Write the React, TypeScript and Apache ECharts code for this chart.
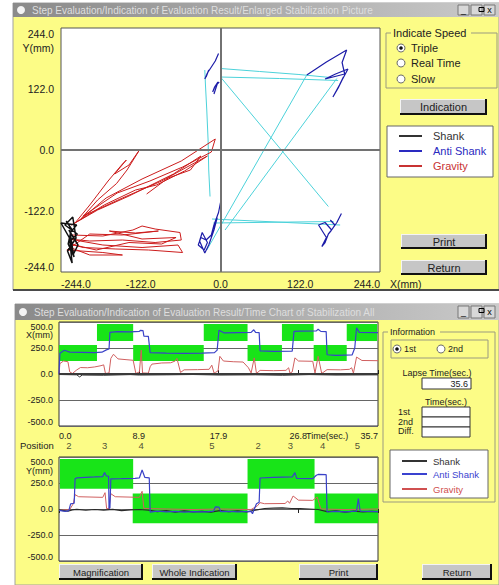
import React, { useEffect, useRef } from 'react';
import * as echarts from 'echarts';

const FONT = '"Liberation Sans", Arial, Helvetica, sans-serif';

// ---------------- Top chart: X-Y trajectory (mm) ----------------
const xyMin = -244;
const xyMax = 244;
const xyInterval = 122;

const shankXY = [[-236,-142],[-228,-158],[-233,-188],[-224,-214],[-230,-182],[-219,-168],[-238,-150],[-226,-134],[-221,-176],[-234,-202],[-227,-226],[-231,-176],[-244,-146],[-220,-150],[-230,-165],[-225,-208],[-218,-190],[-232,-160]];

const antiShankXY1 = [[-3,193],[-8,178],[-14,166],[-20,154],[-24,142],[-21,150],[-18,160],[-22,146]];
const antiShankXY2 = [[-2,136],[-8,128],[-12,116],[-9,126],[-4,136],[-10,112]];
const antiShankXY3 = [[132,150],[162,176],[193,200],[186,175],[190,152],[160,142],[176,152],[195,162],[186,140],[180,124],[172,106],[182,130],[188,146]];
const antiShankXY4 = [[0,-105],[-3,-125],[-10,-150],[-14,-170],[-22,-180],[-30,-175],[-34,-190],[-25,-200],[-20,-185],[-28,-165],[-32,-182],[-24,-206],[-18,-190],[-10,-160],[-5,-135]];
const antiShankXY5 = [[185,-127],[178,-145],[170,-160],[165,-168],[160,-185],[155,-193],[162,-175],[150,-150],[160,-145],[170,-160],[175,-150],[168,-140]];
const antiShankStrokes = [antiShankXY1, antiShankXY2, antiShankXY3, antiShankXY4, antiShankXY5];

const gravityFanXY = [[-225,-150],[-200,-110],[-172,-62],[-150,-28],[-144,-20],[-162,-48],[-140,-30],[-124,0],[-143,-40],[-159,-67],[-188,-100],[-215,-140],[-175,-96],[-120,-58],[-60,-22],[-8,22],[-14,-4],[-58,-34],[-108,-62],[-158,-86],[-210,-132],[-150,-96],[-90,-62],[-40,-26],[-20,-12],[-55,-42],[-98,-70],[-130,-80],[-178,-110],[-228,-150],[-188,-120],[-140,-92],[-72,-48],[-30,-12],[-46,-40],[-80,-56],[-113,-88]];
const gravityBandXY = [[-228,-170],[-180,-172],[-134,-160],[-120,-152],[-100,-158],[-62,-165],[-60,-180],[-100,-185],[-150,-180],[-200,-182],[-232,-178],[-180,-190],[-120,-195],[-65,-190],[-58,-205],[-110,-200],[-160,-198],[-210,-195],[-230,-188],[-190,-200],[-140,-185],[-90,-188],[-68,-175],[-120,-178],[-170,-162],[-130,-166],[-95,-162],[-150,-170],[-200,-168],[-235,-200],[-180,-205],[-150,-210],[-200,-210],[-230,-195]];
const gravityStrokes = [gravityFanXY, gravityBandXY];

const trajA = [[-16,-93],[-18,-40],[-19,20],[-21,80],[-23,130],[-24,160]];
const trajB = [[0,163],[60,157],[120,151],[168,145]];
const trajC = [[0,146],[90,143],[180,139]];
const trajD = [[0,146],[165,-113]];
const trajE = [[132,150],[-21,-200]];
const trajF = [[178,143],[7,-160]];
const trajG = [[-13,-138],[183,-150]];
const trajH = [[-11,-146],[173,-143]];
const trajectoryStrokes = [trajA, trajB, trajC, trajD, trajE, trajF, trajG, trajH];

// ---------------- Time charts ----------------
const timeMax = 35.7;
const timeInterval = 8.925;
const timeTickLabels = ['0.0', '8.9', '17.9', '26.8', '35.7'];
const mmMin = -500;
const mmMax = 500;
const mmInterval = 250;

const shankX = [[0,-5],[2,-8],[2.3,-28],[2.6,-10],[5,-12],[8,-6],[9,-10],[12,-8],[15,-5],[18,-10],[22,-8],[25,-12],[28,-6],[31,-10],[35.7,-8]];
const antiShankX = [[0,-5],[0.1,200],[0.6,228],[1.2,210],[2.5,208],[4.0,205],[4.8,210],[5.3,232],[5.6,240],[5.7,400],[6.5,408],[8.0,405],[9.0,410],[9.1,420],[9.4,418],[9.5,365],[10.0,362],[10.2,205],[12,200],[14,198],[16,200],[17.4,205],[17.7,230],[17.9,420],[18.5,395],[20,398],[21.5,400],[21.8,425],[22.0,400],[22.4,398],[22.5,222],[24,218],[26.1,220],[26.3,410],[27,412],[28.8,415],[29.0,430],[29.3,410],[29.9,408],[30.0,185],[31,180],[32.8,183],[33.1,250],[33.3,445],[33.6,400],[35.7,398]];
const gravityX = [[0,0],[0.1,100],[0.5,125],[1.0,118],[1.2,20],[1.5,5],[2.0,40],[2.4,62],[3.2,60],[4.0,68],[4.7,80],[5.0,88],[5.2,5],[5.6,10],[5.8,150],[6.1,190],[6.6,145],[7.5,138],[8.3,132],[8.6,5],[9.0,20],[9.2,230],[9.35,10],[10.0,8],[10.2,70],[10.4,95],[11.5,106],[12.5,108],[13.0,125],[13.2,150],[13.6,15],[14.0,40],[15.5,42],[16.8,45],[17.1,85],[17.35,10],[17.5,15],[17.8,30],[18.0,170],[18.4,125],[19.5,118],[20.6,115],[21.2,60],[21.5,10],[21.85,155],[22.1,5],[22.5,35],[24,32],[25.4,35],[25.7,60],[25.85,8],[26.1,20],[26.4,155],[26.8,125],[28.4,122],[28.65,8],[29.0,170],[29.4,5],[30.0,42],[31.5,40],[32.5,45],[32.75,60],[32.95,8],[33.3,163],[33.9,130],[35.7,128]];

const shankY = [[0,-10],[1,-20],[1.5,-8],[2,-3],[3,-12],[4,-5],[5,-10],[6,-3],[7,-15],[8,-8],[9,-5],[10,-10],[11,-25],[12,-15],[13,-30],[14,-18],[15,-28],[16,-22],[17,-30],[18,-15],[19,-25],[20,-18],[21,-28],[22,-10],[23,5],[24,8],[25,10],[26,5],[27,3],[28,0],[29,-5],[30,-25],[31,-18],[32,-30],[33,-20],[34,-28],[35,-22],[35.7,-25]];
const antiShankY = [[0,-13],[0.7,-22],[1.1,-15],[1.3,50],[1.7,55],[1.8,290],[2.0,300],[3,305],[4,308],[4.9,312],[5.1,350],[5.3,318],[5.55,315],[5.6,5],[5.7,10],[5.8,290],[7,292],[8.5,295],[9.0,300],[9.3,375],[9.6,305],[10.1,300],[10.2,-30],[11,-20],[12,-28],[13,-22],[14,-30],[15,-25],[16.5,-28],[17.3,-20],[17.5,20],[17.9,18],[18.1,-25],[19,-22],[20,-28],[21.5,-22],[21.65,-45],[22.1,51],[22.4,65],[22.5,298],[24,305],[26.1,308],[26.4,350],[26.6,295],[28.4,292],[28.8,325],[29.0,332],[29.9,330],[30.0,-29],[31,-22],[32,-27],[33.3,-20],[33.5,100],[33.7,-20],[35.7,-25]];
const gravityY = [[0,-13],[1.2,-5],[1.6,51],[1.8,138],[2.2,118],[4.9,112],[5.15,157],[5.33,3],[5.6,5],[5.8,147],[6.3,118],[9.0,112],[9.3,170],[9.5,5],[12,0],[15,-5],[18,0],[21.5,-5],[22.2,30],[22.5,61],[23,51],[25.3,53],[25.6,77],[25.8,55],[26.2,125],[26.8,85],[28.4,83],[28.9,115],[29.3,0],[32,-5],[35.7,0]];

const xHighRange = [317, 481];
const xHighZones = [[4.25, 8.3], [16.2, 21.1], [24.95, 28.5], [32.2, 35.6]];
const xLowRange = [125, 280];
const xLowZones = [[0, 4.25], [8.3, 16.2], [21.1, 24.95], [28.5, 32.2]];
const yHighRange = [195, 480];
const yHighZones = [[0.1, 8.3], [21.1, 28.6]];
const yLowRange = [-138, 150];
const yLowZones = [[8.25, 21.1], [28.6, 35.7]];

const positionTimes = [1.1, 5.1, 9.2, 17.1, 22.3, 25.9, 29.5, 33.4];
const positionNames = ['2', '3', '4', '5', '2', '3', '4', '5'];

// ---------------- graphics helpers ----------------
const YELLOW = '#fcfc86';
const txt = (x: number, y: number, s: string, size = 11, fill = '#1e1e1e', align = 'left', z = 6) => ({
  type: 'text', x, y, z, silent: true,
  style: { text: s, fill, font: `${size}px ${FONT}`, textAlign: align, textVerticalAlign: 'middle' },
});
const rect = (x: number, y: number, w: number, h: number, fill: any, stroke?: string, lw = 1, z = 4) => ({
  type: 'rect', z, silent: true, shape: { x, y, width: w, height: h },
  style: { fill, stroke: stroke || null, lineWidth: stroke ? lw : 0 },
});
const ln = (x1: number, y1: number, x2: number, y2: number, stroke: string, lw = 1, z = 5) => ({
  type: 'line', z, silent: true, shape: { x1, y1, x2, y2 }, style: { stroke, lineWidth: lw },
});
const circ = (cx: number, cy: number, r: number, fill: string, stroke?: string, z = 6) => ({
  type: 'circle', z, silent: true, shape: { cx, cy, r }, style: { fill, stroke: stroke || null, lineWidth: 1 },
});
const button = (x: number, y: number, w: number, h: number, label: string, size: number) => [
  rect(x, y, w, h, '#c6c6c6', undefined, 0, 5),
  ln(x, y + 0.5, x + w, y + 0.5, '#f4f4f4', 1, 6),
  ln(x + 0.5, y, x + 0.5, y + h, '#f4f4f4', 1, 6),
  ln(x + w - 1, y, x + w - 1, y + h, '#111', 2, 6),
  ln(x, y + h - 1, x + w, y + h - 1, '#111', 2, 6),
  txt(x + w / 2, y + h / 2, label, size, '#222', 'center', 7),
];
const radio = (cx: number, cy: number, checked: boolean) => {
  const els: any[] = [circ(cx, cy, 4, '#ffffff', '#6a6a6a')];
  if (checked) els.push(circ(cx, cy, 1.8, '#111', undefined, 7));
  return els;
};
const groupBox = (x: number, y: number, w: number, h: number, title: string, size: number, titleW: number) => [
  rect(x, y, w, h, 'transparent', '#9a9a80', 1, 4),
  rect(x + 5, y - 5, titleW, 10, YELLOW, undefined, 0, 5),
  txt(x + 7, y, title, size, '#222', 'left', 6),
];
const titleBar = (x: number, y: number, w: number, h: number, title: string) => [
  rect(x, y, w, h, new echarts.graphic.LinearGradient(0, 0, 1, 0, [
    { offset: 0, color: '#8a8a8a' }, { offset: 1, color: '#cacaca' },
  ]), undefined, 0, 3),
  circ(x + 8, y + h / 2, 4, '#f4f4f4', undefined, 4),
  txt(x + 19, y + h / 2, title, 10, '#dedede', 'left', 5),
  ...[0, 1, 2].map((i) => rect(x + w - 41 + i * 13, y + 2, 11, h - 4, '#d8d8d8', '#777', 1, 5)),
  txt(x + w - 35.5, y + h / 2, '_', 9, '#000', 'center', 6),
  rect(x + w - 20, y + 4.5, 5, 4, 'transparent', '#000', 1, 6),
  txt(x + w - 9.5, y + h / 2, 'x', 9, '#000', 'center', 6),
];
const legendBox = (x: number, y: number, w: number, h: number, lx1: number, lx2: number, tx: number, rows: number[], size: number, colors: string[]) => [
  rect(x, y, w, h, '#ffffff', '#666', 1, 4),
  ...['Shank', 'Anti Shank', 'Gravity'].flatMap((name, i) => [
    ln(lx1, rows[i], lx2, rows[i], colors[i], 2, 6),
    txt(tx, rows[i], name, size, colors[i], 'left', 6),
  ]),
];

function buildGraphics() {
  const g: any[] = [];
  // top window
  g.push(rect(13, 3, 486, 287, YELLOW, '#a0a0a0', 1, -5));
  g.push(...titleBar(13, 3, 486, 14, 'Step Evaluation/Indication of Evaluation Result/Enlarged Stabilization Picture'));
  g.push(ln(13, 290, 499, 290, '#4a4a4a', 2, 5));
  g.push(txt(54, 48, 'Y(mm)', 10.5, '#222', 'right'));
  g.push(txt(390, 284, 'X(mm)', 10.5, '#222', 'left'));
  g.push(...groupBox(386, 33, 111, 55, 'Indicate Speed', 11, 80));
  g.push(...radio(401, 48, true), txt(411, 48, 'Triple', 11));
  g.push(...radio(401, 63, false), txt(411, 63, 'Real Time', 11));
  g.push(...radio(401, 79, false), txt(411, 79, 'Slow', 11));
  g.push(...button(400, 99, 87, 16, 'Indication', 11));
  g.push(...legendBox(387, 126, 106, 51, 399, 422, 433, [136, 151, 166], 11, ['#333333', '#2a2ac0', '#c83232']));
  g.push(...button(401, 234, 86, 15, 'Print', 11));
  g.push(...button(401, 260, 86, 15, 'Return', 11));

  // bottom window
  g.push(rect(15, 304, 484, 281, YELLOW, '#a0a0a0', 1, -5));
  g.push(...titleBar(15, 304, 484, 16, 'Step Evaluation/Indication of Evaluation Result/Time Chart of Stabilization All'));
  g.push(txt(53, 335, 'X(mm)', 9, '#222', 'right'));
  g.push(txt(53, 471, 'Y(mm)', 9, '#222', 'right'));
  g.push(txt(306, 436, 'Time(sec.)', 9, '#222', 'left'));
  g.push(txt(20, 445, 'Position', 9.5, '#222', 'left'));
  g.push(...groupBox(383, 332, 112, 170, 'Information', 9, 52));
  g.push(rect(391, 340, 97, 18, 'transparent', '#9a9a80', 1, 4));
  g.push(...radio(397, 349, true), txt(404, 349, '1st', 9));
  g.push(...radio(441, 349, false), txt(448, 349, '2nd', 9));
  g.push(txt(437, 373, 'Lapse Time(sec.)', 9, '#222', 'center'));
  g.push(rect(422, 378, 49, 11, '#ffffff', '#333', 1, 5), txt(468, 384, '35.6', 9, '#222', 'right', 7));
  g.push(txt(446, 402, 'Time(sec.)', 9, '#222', 'center'));
  g.push(rect(422, 407, 48, 10, '#ffffff', '#333', 1, 5));
  g.push(rect(422, 417, 48, 10, '#ffffff', '#333', 1, 5));
  g.push(rect(422, 427, 48, 10, '#ffffff', '#333', 1, 5));
  g.push(txt(398, 412, '1st', 9), txt(398, 422, '2nd', 9), txt(398, 431, 'Diff.', 9));
  g.push(...legendBox(390, 450, 98, 48, 402, 427, 433, [461, 474, 489], 9.5, ['#333333', '#3a42d0', '#d05050']));
  g.push(...button(59, 564, 84, 16, 'Magnification', 9.5));
  g.push(...button(152, 564, 85, 16, 'Whole Indication', 9.5));
  g.push(...button(299, 564, 79, 16, 'Print', 9.5));
  g.push(...button(422, 564, 70, 16, 'Return', 9.5));
  return g;
}

const lineSeries = (name: string, data: number[][], color: string, xi: number, yi: number, width = 1, z = 3) => ({
  type: 'line', name, data, xAxisIndex: xi, yAxisIndex: yi, showSymbol: false, symbol: 'none',
  lineStyle: { color, width }, itemStyle: { color }, z, silent: true, animation: false,
});

const zonePairs = (zones: number[][], range: number[]) =>
  zones.map(([a, b]) => [{ xAxis: a, yAxis: range[0] }, { xAxis: b, yAxis: range[1] }]);

function buildOption() {
  const mmFmt = (v: number) => v.toFixed(1);
  const timeFmt = (v: number) => timeTickLabels[Math.round(v / timeInterval)] ?? '';
  const timeYAxis = (gi: number) => ({
    gridIndex: gi, type: 'value', min: mmMin, max: mmMax, interval: mmInterval,
    axisLine: { show: false }, axisTick: { show: false },
    splitLine: { show: true, lineStyle: { color: '#666', width: 1 } },
    axisLabel: { fontSize: 9, fontFamily: FONT, color: '#222', margin: 6, formatter: mmFmt,
      verticalAlignMinLabel: 'bottom', verticalAlignMaxLabel: 'top' },
  });
  const series: any[] = [];
  // top chart
  series.push({
    type: 'line', data: [[0, 0]], symbol: 'none', lineStyle: { opacity: 0 }, xAxisIndex: 0, yAxisIndex: 0, z: 1, silent: true,
    markLine: { silent: true, symbol: ['none', 'none'], label: { show: false }, animation: false,
      lineStyle: { color: '#727272', width: 2, type: 'solid' }, data: [{ xAxis: 0 }, { yAxis: 0 }] },
  });
  trajectoryStrokes.forEach((s) => series.push(lineSeries('Trajectory', s, '#4cd2da', 0, 0, 1, 2)));
  gravityStrokes.forEach((s) => series.push(lineSeries('Gravity', s, '#cc1c1c', 0, 0, 1, 3)));
  series.push(lineSeries('Shank', shankXY, '#111111', 0, 0, 1.5, 4));
  antiShankStrokes.forEach((s) => series.push(lineSeries('Anti Shank', s, '#1c1ca8', 0, 0, 1.2, 4)));

  // X time chart
  series.push({
    type: 'line', data: [[0, 0]], symbol: 'none', lineStyle: { opacity: 0 }, xAxisIndex: 1, yAxisIndex: 1, z: 1, silent: true,
    markArea: { silent: true, itemStyle: { color: '#18e418' }, data: [...zonePairs(xHighZones, xHighRange), ...zonePairs(xLowZones, xLowRange)] },
    markLine: { silent: true, symbol: ['none', 'none'], label: { show: false }, lineStyle: { color: '#3a3a3a', width: 2, type: 'solid' }, data: [{ yAxis: 0 }] },
  });
  series.push(lineSeries('Shank', shankX, '#2a2a2a', 1, 1, 1, 3));
  series.push(lineSeries('Gravity', gravityX, '#d06060', 1, 1, 1, 3));
  series.push(lineSeries('Anti Shank', antiShankX, '#3a42c8', 1, 1, 1.2, 4));

  // Y time chart
  series.push({
    type: 'line', data: [[0, 0]], symbol: 'none', lineStyle: { opacity: 0 }, xAxisIndex: 2, yAxisIndex: 2, z: 1, silent: true,
    markArea: { silent: true, itemStyle: { color: '#18e418' }, data: [...zonePairs(yHighZones, yHighRange), ...zonePairs(yLowZones, yLowRange)] },
  });
  series.push(lineSeries('Gravity', gravityY, '#d06060', 2, 2, 1, 3));
  series.push(lineSeries('Shank', shankY, '#2a2a2a', 2, 2, 1.2, 3));
  series.push(lineSeries('Anti Shank', antiShankY, '#3a42c8', 2, 2, 1.2, 4));

  // position labels
  series.push({
    type: 'scatter', xAxisIndex: 3, yAxisIndex: 3, symbolSize: 1, itemStyle: { color: 'rgba(0,0,0,0)' }, silent: true,
    data: positionTimes.map((t, i) => ({ value: [t, 0.5], name: positionNames[i] })),
    label: { show: true, position: 'inside', formatter: '{b}', fontSize: 9.5, fontFamily: FONT, color: '#222' },
  });

  return {
    animation: false,
    textStyle: { fontFamily: FONT },
    grid: [
      { left: 61, top: 28, width: 319, height: 244, show: true, backgroundColor: '#ffffff', borderColor: '#555', borderWidth: 1 },
      { left: 59, top: 322, width: 319, height: 104, show: true, backgroundColor: '#ffffff', borderColor: '#333', borderWidth: 1 },
      { left: 59, top: 457, width: 319, height: 104, show: true, backgroundColor: '#ffffff', borderColor: '#333', borderWidth: 1 },
      { left: 59, top: 440, width: 319, height: 10, show: false },
    ],
    xAxis: [
      { gridIndex: 0, type: 'value', min: xyMin, max: xyMax, interval: xyInterval, axisLine: { show: false }, axisTick: { show: false }, splitLine: { show: false },
        axisLabel: { fontSize: 10.5, fontFamily: FONT, color: '#222', margin: 6, formatter: mmFmt, alignMinLabel: 'left', alignMaxLabel: 'right' } },
      { gridIndex: 1, type: 'value', min: 0, max: timeMax, interval: timeInterval, axisLine: { show: false }, splitLine: { show: false },
        axisTick: { show: true, inside: true, length: 4, lineStyle: { color: '#222' } },
        axisLabel: { fontSize: 9, fontFamily: FONT, color: '#222', margin: 5, formatter: timeFmt, alignMinLabel: 'left', alignMaxLabel: 'right' } },
      { gridIndex: 2, type: 'value', position: 'top', min: 0, max: timeMax, interval: timeInterval, axisLine: { show: false }, splitLine: { show: false },
        axisTick: { show: true, inside: true, length: 4, lineStyle: { color: '#222' } }, axisLabel: { show: false } },
      { gridIndex: 3, type: 'value', min: 0, max: timeMax, show: false },
    ],
    yAxis: [
      { gridIndex: 0, type: 'value', min: xyMin, max: xyMax, interval: xyInterval, axisLine: { show: false }, axisTick: { show: false }, splitLine: { show: false },
        axisLabel: { fontSize: 10.5, fontFamily: FONT, color: '#222', margin: 7, formatter: mmFmt, verticalAlignMinLabel: 'bottom', verticalAlignMaxLabel: 'top' } },
      timeYAxis(1),
      timeYAxis(2),
      { gridIndex: 3, type: 'value', min: 0, max: 1, show: false },
    ],
    graphic: { elements: buildGraphics() },
    series,
  };
}

export default function App() {
  const ref = useRef<HTMLDivElement>(null);
  useEffect(() => {
    document.body.style.margin = '0';
    document.body.style.background = '#ffffff';
    if (!ref.current) return;
    const chart = echarts.init(ref.current, undefined, { renderer: 'svg' });
    chart.setOption(buildOption() as any);
    return () => chart.dispose();
  }, []);
  return <div ref={ref} style={{ width: 499, height: 585 }} />;
}
